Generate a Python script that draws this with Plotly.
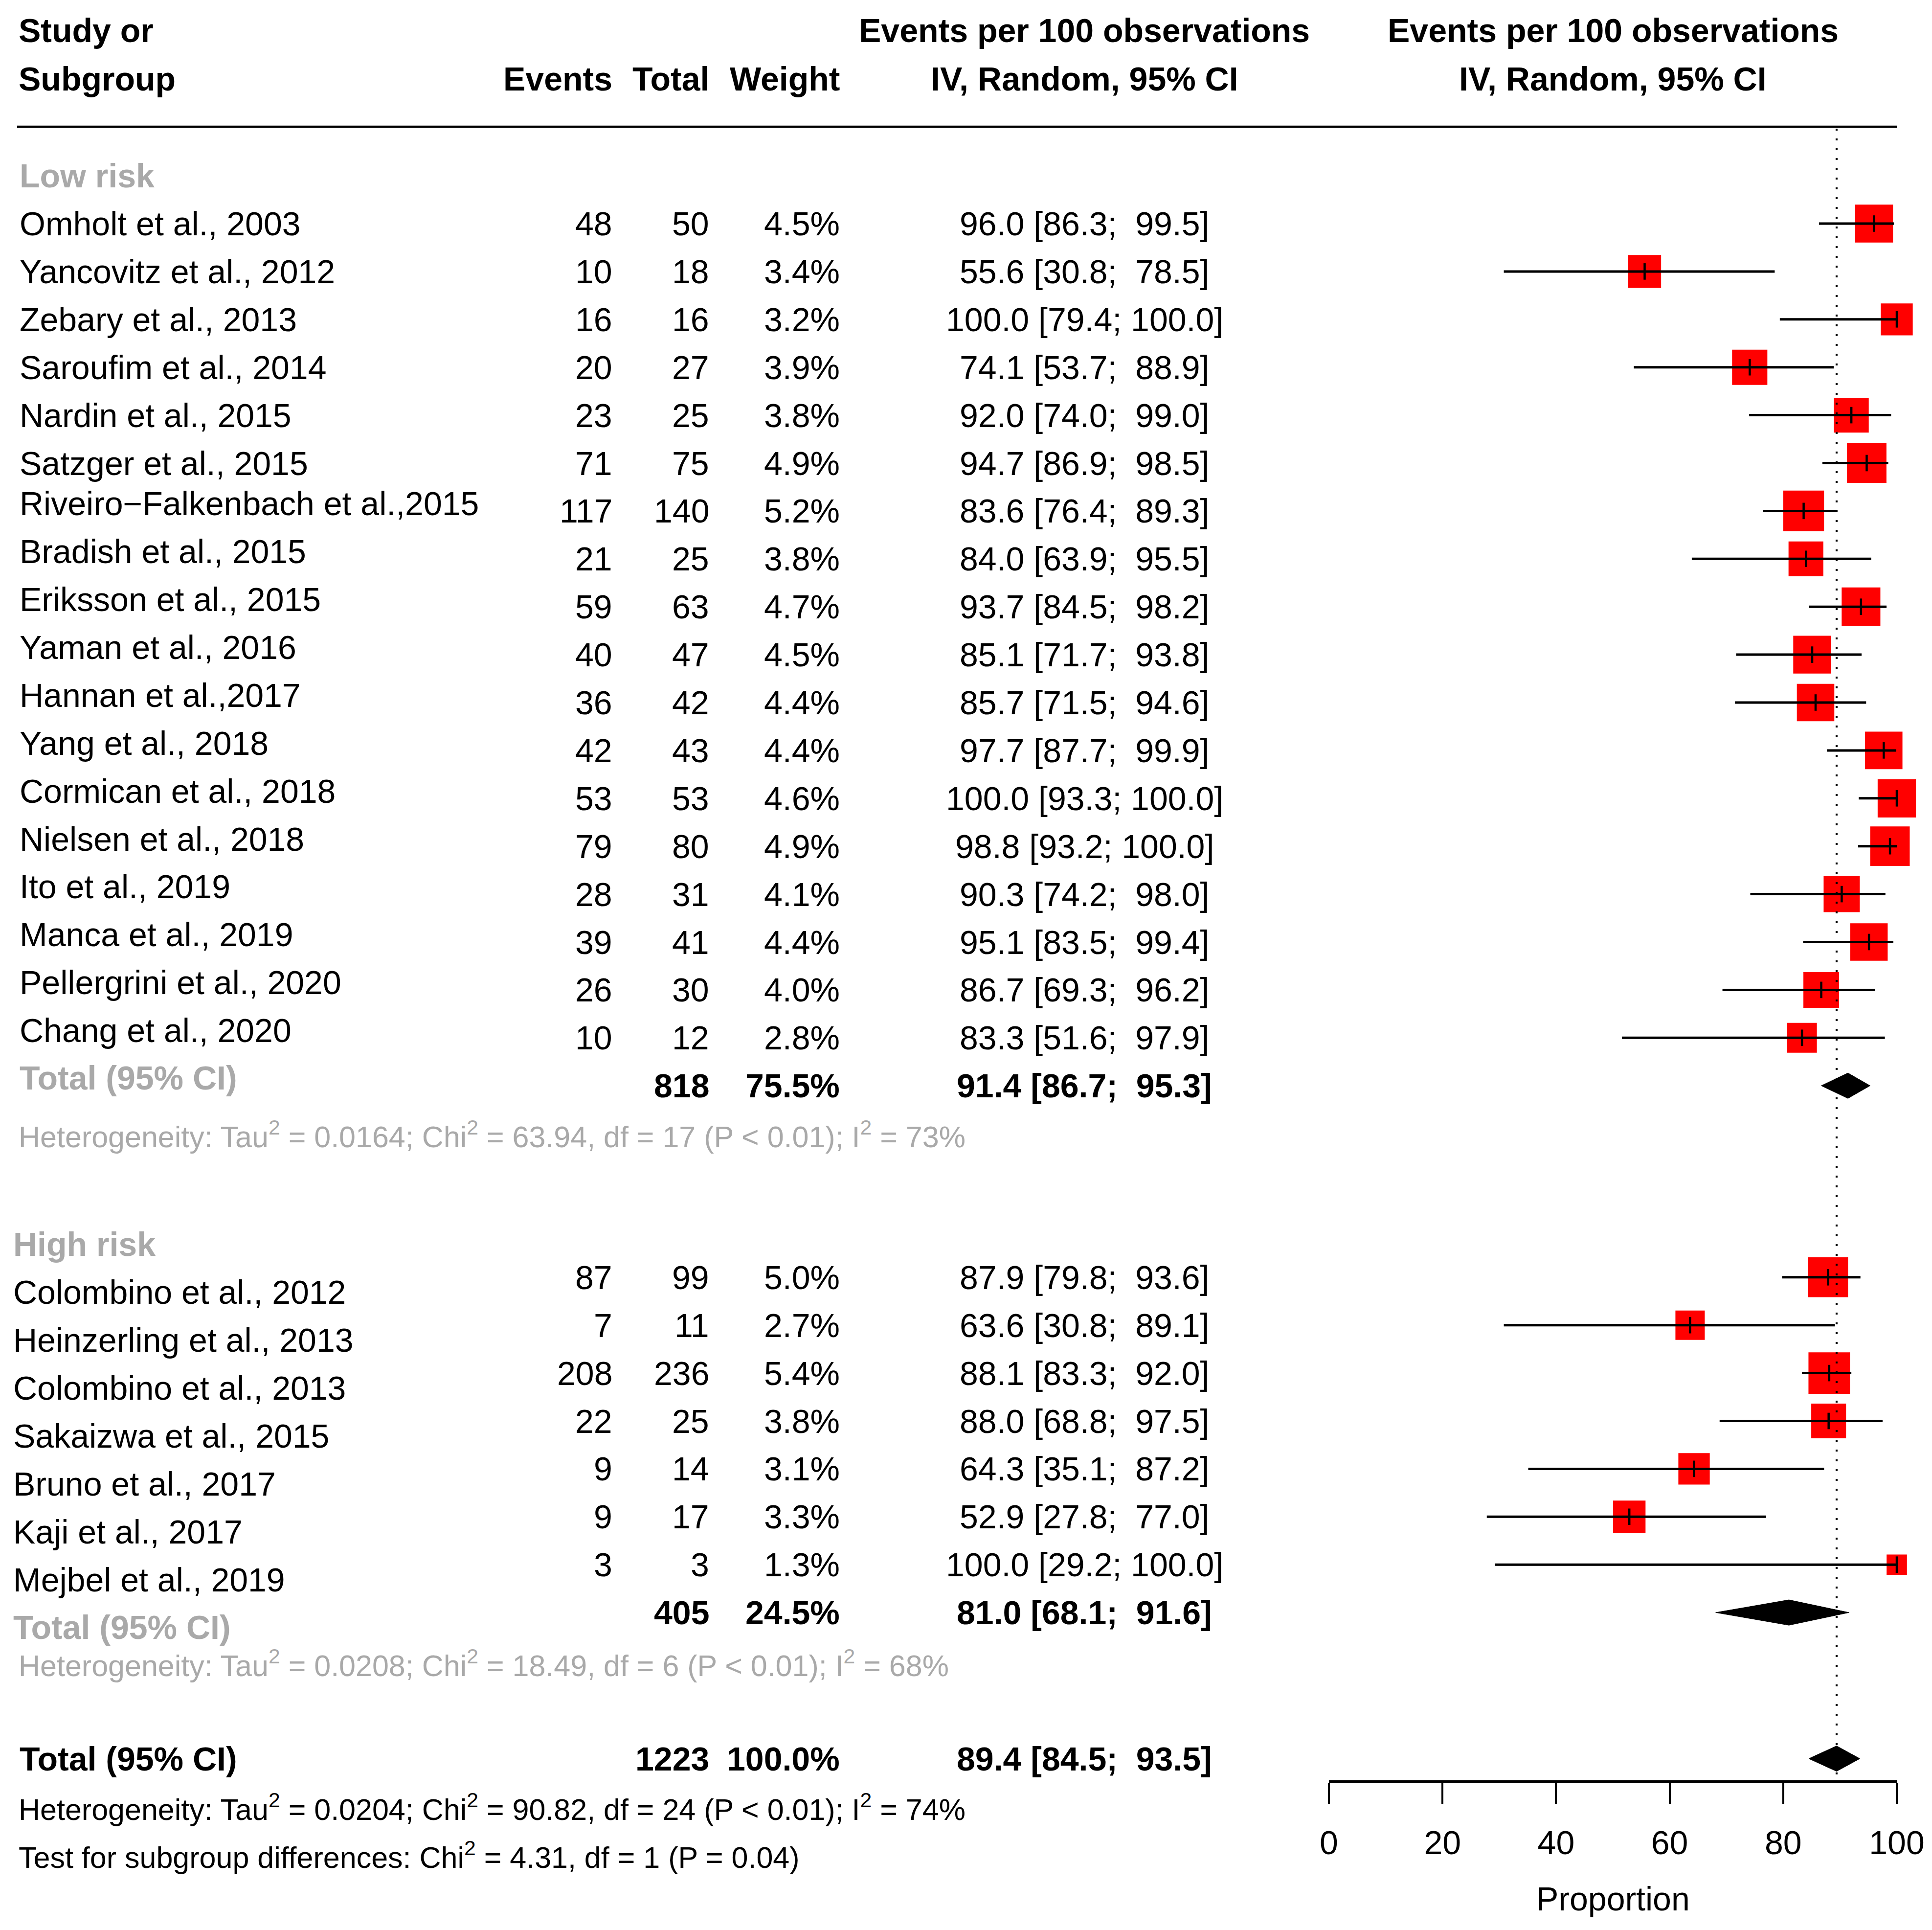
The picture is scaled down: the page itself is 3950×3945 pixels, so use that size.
import math
import plotly.graph_objects as go

# ---------------- data ----------------
low_study = ["Omholt et al., 2003", "Yancovitz et al., 2012", "Zebary et al., 2013",
             "Saroufim et al., 2014", "Nardin et al., 2015", "Satzger et al., 2015",
             "Riveiro\u2212Falkenbach et al.,2015", "Bradish et al., 2015", "Eriksson et al., 2015",
             "Yaman et al., 2016", "Hannan et al.,2017", "Yang et al., 2018",
             "Cormican et al., 2018", "Nielsen et al., 2018", "Ito et al., 2019",
             "Manca et al., 2019", "Pellergrini et al., 2020", "Chang et al., 2020"]
low_events = [48, 10, 16, 20, 23, 71, 117, 21, 59, 40, 36, 42, 53, 79, 28, 39, 26, 10]
low_total = [50, 18, 16, 27, 25, 75, 140, 25, 63, 47, 42, 43, 53, 80, 31, 41, 30, 12]
low_weight = [4.5, 3.4, 3.2, 3.9, 3.8, 4.9, 5.2, 3.8, 4.7, 4.5, 4.4, 4.4, 4.6, 4.9, 4.1, 4.4, 4.0, 2.8]
low_est = [96.0, 55.6, 100.0, 74.1, 92.0, 94.7, 83.6, 84.0, 93.7, 85.1, 85.7, 97.7, 100.0, 98.8, 90.3, 95.1, 86.7, 83.3]
low_lower = [86.3, 30.8, 79.4, 53.7, 74.0, 86.9, 76.4, 63.9, 84.5, 71.7, 71.5, 87.7, 93.3, 93.2, 74.2, 83.5, 69.3, 51.6]
low_upper = [99.5, 78.5, 100.0, 88.9, 99.0, 98.5, 89.3, 95.5, 98.2, 93.8, 94.6, 99.9, 100.0, 100.0, 98.0, 99.4, 96.2, 97.9]

high_study = ["Colombino et al., 2012", "Heinzerling et al., 2013", "Colombino et al., 2013",
              "Sakaizwa et al., 2015", "Bruno et al., 2017", "Kaji et al., 2017", "Mejbel et al., 2019"]
high_events = [87, 7, 208, 22, 9, 9, 3]
high_total = [99, 11, 236, 25, 14, 17, 3]
high_weight = [5.0, 2.7, 5.4, 3.8, 3.1, 3.3, 1.3]
high_est = [87.9, 63.6, 88.1, 88.0, 64.3, 52.9, 100.0]
high_lower = [79.8, 30.8, 83.3, 68.8, 35.1, 27.8, 29.2]
high_upper = [93.6, 89.1, 92.0, 97.5, 87.2, 77.0, 100.0]

# pooled: low risk, high risk, overall
pooled_total = [818, 405, 1223]
pooled_weight = [75.5, 24.5, 100.0]
pooled_est = [91.4, 81.0, 89.4]
pooled_lower = [86.7, 68.1, 84.5]
pooled_upper = [95.3, 91.6, 93.5]

het_low = "Heterogeneity: Tau<sup>2</sup> = 0.0164; Chi<sup>2</sup> = 63.94, df = 17 (P &lt; 0.01); I<sup>2</sup> = 73%"
het_high = "Heterogeneity: Tau<sup>2</sup> = 0.0208; Chi<sup>2</sup> = 18.49, df = 6 (P &lt; 0.01); I<sup>2</sup> = 68%"
het_all = "Heterogeneity: Tau<sup>2</sup> = 0.0204; Chi<sup>2</sup> = 90.82, df = 24 (P &lt; 0.01); I<sup>2</sup> = 74%"
test_sub = "Test for subgroup differences: Chi<sup>2</sup> = 4.31, df = 1 (P = 0.04)"
axis_ticks = [0, 20, 40, 60, 80, 100]

# ---------------- layout constants ----------------
W, H = 3950, 3945
FONT = "Liberation Sans"
FS = 68
FS_HET = 61
GRAY = "#A9A9A9"
ROW0_PX, ROW_PX = 456.0, 97.9
X0_PX, X100_PX = 2717.0, 3878.0
AXIS_PX = 3640.0
# page placement calibration (body margin)
OFFX, WEFF = 8.0, 3950.0
OFFY = 7.0


def fx(p):
    return (p - OFFX) / WEFF


def px2row(p):
    return (p - ROW0_PX) / ROW_PX


low_rows = list(range(len(low_study)))
high_rows = [22 + i for i in range(len(high_study))]
pooled_rows = [18, 29, 32.05]

COL_STUDY_LOW, COL_STUDY_HIGH = 40, 27
COL_EV, COL_TOT, COL_WT, COL_CI = 1252, 1450, 1717, 2217
RIGHT_C = (X0_PX + X100_PX) / 2

ann = []


def txt(xpx, row, s, anchor="left", size=FS, color="black", bold=False):
    if bold:
        s = "<b>" + s + "</b>"
    ann.append(dict(x=fx(xpx), xref="paper", y=row, yref="y", text=s, showarrow=False,
                    xanchor=anchor, yanchor="middle", borderpad=0, borderwidth=0,
                    font=dict(family=FONT, size=size, color=color)))


def pad5(v):
    s = f"{v:.1f}"
    return "\u00a0" * (5 - len(s)) + s


def ci_str(e, l, u):
    return f"{e:.1f} [{l:.1f}; {pad5(u)}]"


# headers
h1, h2 = px2row(61), px2row(160)
txt(COL_STUDY_LOW - 2, h1, "Study or", bold=True)
txt(COL_STUDY_LOW - 2, h2, "Subgroup", bold=True)
txt(COL_EV, h2, "Events", "right", bold=True)
txt(COL_TOT, h2, "Total", "right", bold=True)
txt(COL_WT, h2, "Weight", "right", bold=True)
txt(COL_CI, h1, "Events per 100 observations", "center", bold=True)
txt(COL_CI, h2, "IV, Random, 95% CI", "center", bold=True)
txt(RIGHT_C, h1, "Events per 100 observations", "center", bold=True)
txt(RIGHT_C, h2, "IV, Random, 95% CI", "center", bold=True)

# low risk
txt(COL_STUDY_LOW, -1.0, "Low risk", color=GRAY, bold=True)
for i, r in enumerate(low_rows):
    off = 0.0 if i < 6 else -0.155
    txt(COL_STUDY_LOW, r + off, low_study[i])
    txt(COL_EV, r, str(low_events[i]), "right")
    txt(COL_TOT, r, str(low_total[i]), "right")
    txt(COL_WT, r, f"{low_weight[i]:.1f}%", "right")
    txt(COL_CI, r, ci_str(low_est[i], low_lower[i], low_upper[i]), "center")

# high risk
txt(COL_STUDY_HIGH, 21.31, "High risk", color=GRAY, bold=True)
for i, r in enumerate(high_rows):
    txt(COL_STUDY_HIGH, r + 0.31, high_study[i])
    txt(COL_EV, r, str(high_events[i]), "right")
    txt(COL_TOT, r, str(high_total[i]), "right")
    txt(COL_WT, r, f"{high_weight[i]:.1f}%", "right")
    txt(COL_CI, r, ci_str(high_est[i], high_lower[i], high_upper[i]), "center")

# pooled rows
label_pos = [(COL_STUDY_LOW, -0.17, GRAY), (COL_STUDY_HIGH, 0.31, GRAY), (COL_STUDY_LOW, 0.0, "black")]
for k, r in enumerate(pooled_rows):
    lx, loff, lc = label_pos[k]
    txt(lx, r + loff, "Total (95% CI)", color=lc, bold=True)
    txt(COL_TOT, r, str(pooled_total[k]), "right", bold=True)
    txt(COL_WT, r, f"{pooled_weight[k]:.1f}%", "right", bold=True)
    txt(COL_CI, r, ci_str(pooled_est[k], pooled_lower[k], pooled_upper[k]), "center", bold=True)

txt(COL_STUDY_LOW - 2, 19.02, het_low, size=FS_HET, color=GRAY)
txt(COL_STUDY_LOW - 2, 30.06, het_high, size=FS_HET, color=GRAY)
txt(COL_STUDY_LOW - 2, 33.06, het_all, size=FS_HET)
txt(COL_STUDY_LOW - 2, 34.07, test_sub, size=FS_HET)

txt(RIGHT_C, px2row(3880), "Proportion", "center")

# ---------------- marks ----------------
all_est = low_est + high_est
all_lo = low_lower + high_lower
all_hi = low_upper + high_upper
all_w = low_weight + high_weight
all_rows = low_rows + high_rows

fig = go.Figure()

fig.add_trace(go.Scatter(
    x=all_est, y=all_rows, mode="markers", cliponaxis=False, hoverinfo="skip",
    marker=dict(symbol="square", color="#FF0000", opacity=1,
                size=[36.5 * math.sqrt(w) for w in all_w], line=dict(width=0)),
    showlegend=False))

lx, ly = [], []
for lo, hi, r in zip(all_lo, all_hi, all_rows):
    lx += [lo, hi, None]
    ly += [r, r, None]
fig.add_trace(go.Scatter(x=lx, y=ly, mode="lines", line=dict(color="black", width=5),
                         hoverinfo="skip", showlegend=False))

fig.add_trace(go.Scatter(
    x=all_est, y=all_rows, mode="markers", cliponaxis=False, hoverinfo="skip",
    marker=dict(symbol="line-ns", size=24, color="black", opacity=1,
                line=dict(color="black", width=4.5)),
    showlegend=False))

DH = 26.0 / ROW_PX
for e, lo, hi, r in zip(pooled_est, pooled_lower, pooled_upper, pooled_rows):
    fig.add_trace(go.Scatter(
        x=[lo, e, hi, e, lo], y=[r, r - DH, r, r + DH, r], mode="lines", fill="toself",
        fillcolor="black", line=dict(color="black", width=1), hoverinfo="skip",
        showlegend=False))

shapes = [
    dict(type="line", xref="paper", yref="y", x0=fx(35), x1=fx(X100_PX),
         y0=px2row(258), y1=px2row(258), line=dict(color="black", width=4.5)),
    dict(type="line", xref="x", yref="y", x0=pooled_est[2], x1=pooled_est[2],
         y0=px2row(262), y1=px2row(AXIS_PX), line=dict(color="black", width=4, dash="4px,16px")),
]

fig.update_layout(
    width=W, height=H, margin=dict(l=0, r=0, t=0, b=0, pad=0, autoexpand=False),
    paper_bgcolor="white", plot_bgcolor="rgba(0,0,0,0)",
    annotations=ann, shapes=shapes, showlegend=False,
    xaxis=dict(domain=[fx(X0_PX), fx(X100_PX)], range=[0, 100], anchor="free",
               position=1 - (AXIS_PX - OFFY) / H, showgrid=False, zeroline=False,
               automargin=False,
               showline=True, linecolor="black", linewidth=4.5,
               ticks="outside", ticklen=43, tickwidth=4, tickcolor="black",
               tickvals=axis_ticks, ticktext=[str(t) for t in axis_ticks],
               ticklabelstandoff=22,
               tickfont=dict(family=FONT, size=FS, color="black")),
    yaxis=dict(domain=[0, 1], range=[px2row(H + OFFY), px2row(OFFY)], visible=False,
               automargin=False, showgrid=False, zeroline=False),
)

fig.write_html("out.html")
